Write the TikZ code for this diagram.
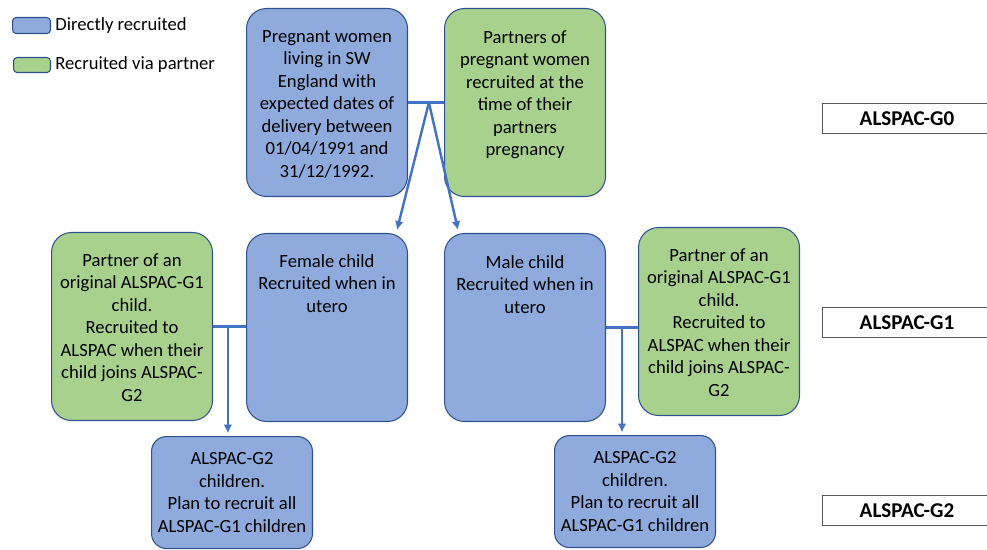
\documentclass[tikz,border=0pt]{standalone}
\usepackage{fontspec}
\setmainfont{Carlito}
\usetikzlibrary{arrows.meta,positioning,calc}

\definecolor{boxblue}{HTML}{8FAADC}
\definecolor{boxgreen}{HTML}{A9D18E}
\definecolor{boxedge}{HTML}{2F528F}
\definecolor{linkblue}{HTML}{4472C4}

\tikzset{
  cohort/.style={draw=boxedge, line width=0.6pt, rounded corners=0.4cm, anchor=north west,
    minimum width=3.22cm, minimum height=3.76cm, inner sep=0pt, align=center,
    font=\fontsize{10.6}{12.8}\selectfont},
  direct/.style={cohort, fill=boxblue},
  viapartner/.style={cohort, fill=boxgreen},
  boxtext/.style={align=center, inner sep=0pt, font=\fontsize{10.6}{12.8}\selectfont},
  link/.style={draw=linkblue, line width=1.4pt},
  gen/.style={draw=gray!70!black, line width=0.6pt, fill=white, anchor=north west,
    minimum width=3.38cm, minimum height=0.6cm, font=\fontsize{12}{14}\selectfont\bfseries}
}

\begin{document}
\begin{tikzpicture}[x=0.02cm, y=-0.02cm]
  \useasboundingbox (0,0) rectangle (987,550);

  % key
  \node[direct, rounded corners=2pt, minimum width=0.76cm, minimum height=0.32cm] (keyd) at (12,17) {};
  \node[boxtext, right=0.08cm of keyd] (keydtxt) {Directly recruited};
  \node[viapartner, rounded corners=2pt, minimum width=0.74cm, minimum height=0.3cm] (keyg) at (13,57) {};
  \node[boxtext, right=0.08cm of keyg] (keygtxt) {Recruited via partner};

  % G0
  \node[direct] (preg) at (246,8) {};
  \node[boxtext, below=0.44cm of preg.north] (pregtxt) {Pregnant women\\ living in SW\\ England with\\ expected dates of\\ delivery between\\ 01/04/1991 and\\ 31/12/1992.};
  \node[viapartner] (part0) at (444,8) {};
  \node[boxtext, below=0.44cm of part0.north] (part0txt) {Partners of\\ pregnant women\\ recruited at the\\ time of their\\ partners\\ pregnancy};

  % G1
  \node[viapartner] (partL) at (51,232) {};
  \node[boxtext, below=0.42cm of partL.north] (partLtxt) {Partner of an\\ original ALSPAC-G1\\ child.\\ Recruited to\\ ALSPAC when their\\ child joins ALSPAC-\\ G2};
  \node[direct] (fem) at (246,233) {};
  \node[boxtext, below=0.42cm of fem.north] (femtxt) {Female child\\ Recruited when in\\ utero};
  \node[direct] (male) at (444,233) {};
  \node[boxtext, below=0.44cm of male.north] (maletxt) {Male child\\ Recruited when in\\ utero};
  \node[viapartner] (partR) at (638,227) {};
  \node[boxtext, below=0.42cm of partR.north] (partRtxt) {Partner of an\\ original ALSPAC-G1\\ child.\\ Recruited to\\ ALSPAC when their\\ child joins ALSPAC-\\ G2};

  % G2
  \node[direct, minimum height=2.24cm, rounded corners=0.3cm] (g2L) at (151,436) {ALSPAC-G2\\ children.\\ Plan to recruit all\\ ALSPAC-G1 children};
  \node[direct, minimum height=2.24cm, rounded corners=0.3cm] (g2R) at (554,435) {ALSPAC-G2\\ children.\\ Plan to recruit all\\ ALSPAC-G1 children};

  % generation labels
  \node[gen] (gen0) at (822,103) {ALSPAC-G0};
  \node[gen] (gen1) at (822,307) {ALSPAC-G1};
  \node[gen] (gen2) at (822,495) {ALSPAC-G2};

  % links
  \draw[link] (preg.east) -- coordinate[pos=0.58] (j0) (part0.west);
  \draw[link, -{Latex[length=5pt,width=5pt]}] (j0) -- ($(fem.north east)+(-11,-3)$);
  \draw[link, -{Latex[length=5pt,width=5pt]}] (j0) -- ($(male.north west)+(14,-3)$);
  \draw[link] (partL.east) -- coordinate[pos=0.45] (jL) (partL.east -| fem.west);
  \draw[link, -{Latex[length=5pt,width=5pt]}, shorten >=1.5pt] (jL) -- (jL |- g2L.north);
  \draw[link] (male.east) -- coordinate[pos=0.5] (jR) (male.east -| partR.west);
  \draw[link, -{Latex[length=5pt,width=5pt]}, shorten >=1.5pt] (jR) -- (jR |- g2R.north);
\end{tikzpicture}
\end{document}
